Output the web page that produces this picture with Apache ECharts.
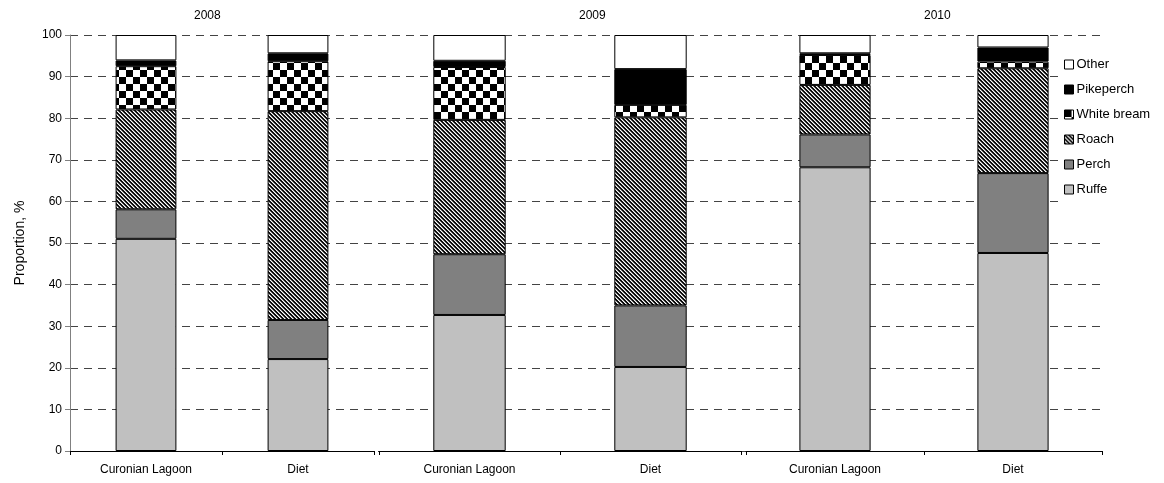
<!DOCTYPE html>
<html>
<head>
<meta charset="utf-8">
<script src="https://cdn.jsdelivr.net/npm/echarts@6/dist/echarts.min.js"></script>
<style>
  html, body { margin: 0; padding: 0; background: #fff; }
  #chart { width: 1164px; height: 483px; }
</style>
</head>
<body>
<div id="chart"></div>
<script>
// Fish species composition (%), in the lagoon catch vs. in the diet, per year.
const years = ['2008', '2009', '2010'];
const categories = ['Curonian Lagoon', 'Diet'];
// values ordered: 2008 CL, 2008 Diet, 2009 CL, 2009 Diet, 2010 CL, 2010 Diet
const ruffe      = [51.0, 22.1, 32.7, 20.2, 68.2, 47.6];
const perch      = [7.1,  9.4, 14.6, 14.8,  7.9, 19.2];
const roach      = [24.0, 50.2, 32.3, 45.2, 11.9, 25.2];
const whiteBream = [10.4, 12.0, 12.7,  3.0,  7.2,  1.6];
const pikeperch  = [1.4,  1.9,  1.5,  8.6,  0.4,  3.4];
const other      = [6.1,  4.4,  6.2,  8.2,  4.4,  3.0];
const yTicks = [0, 10, 20, 30, 40, 50, 60, 70, 80, 90, 100];

// Fill patterns
function makeStripes() {
  const n = 4, c = document.createElement('canvas');
  c.width = n; c.height = n;
  const ctx = c.getContext('2d');
  const img = ctx.createImageData(n, n);
  for (let y = 0; y < n; y++) for (let x = 0; x < n; x++) {
    const d = ((x - y) % n + n) % n;
    const v = d === 0 ? 0 : (d === 1 ? 30 : (d === 3 ? 140 : 255));
    const i = (y * n + x) * 4;
    img.data[i] = img.data[i + 1] = img.data[i + 2] = v; img.data[i + 3] = 255;
  }
  ctx.putImageData(img, 0, 0);
  return c;
}
function makeChecker() {
  const s = 7, c = document.createElement('canvas');
  c.width = 2 * s; c.height = 2 * s;
  const ctx = c.getContext('2d');
  ctx.fillStyle = '#fff'; ctx.fillRect(0, 0, 2 * s, 2 * s);
  ctx.fillStyle = '#000';
  ctx.fillRect(0, 0, s, s); ctx.fillRect(s, s, s, s);
  return c;
}

const species = [
  { name: 'Ruffe',       values: ruffe,      color: '#c0c0c0' },
  { name: 'Perch',       values: perch,      color: '#808080' },
  { name: 'Roach',       values: roach,      color: { image: makeStripes(), repeat: 'repeat' } },
  { name: 'White bream', values: whiteBream, color: { image: makeChecker(), repeat: 'repeat' } },
  { name: 'Pikeperch',   values: pikeperch,  color: '#000000' },
  { name: 'Other',       values: other,      color: '#ffffff' }
];

const font = 'Liberation Sans, Arial, sans-serif';
const panels = [
  { left: 70,  width: 304, offset: 0 },
  { left: 379, width: 362, offset: 2 },
  { left: 746, width: 356, offset: 2 }
];
const yearX = [207, 592, 937];

const grids = [{ left: 70, right: 62, top: 35, bottom: 32 }];
const xAxes = [{ type: 'value', gridIndex: 0, show: false, min: 0, max: 1 }];
const yAxes = [{
  type: 'value', gridIndex: 0, min: 0, max: 100, interval: 10,
  name: 'Proportion, %', nameLocation: 'middle', nameGap: 43,
  nameTextStyle: { fontFamily: font, fontSize: 14, color: '#000' },
  axisLine: { show: true, lineStyle: { color: '#808080', width: 1 } },
  axisTick: { show: true, length: 5, lineStyle: { color: '#808080' } },
  axisLabel: { fontFamily: font, fontSize: 12, color: '#000', margin: 8,
               customValues: yTicks },
  splitLine: { show: true, lineStyle: { color: '#444', type: [8, 6], width: 1 } }
}];

panels.forEach((p, i) => {
  grids.push({ left: p.left, width: p.width, top: 35, bottom: 32 });
  xAxes.push({
    type: 'category', gridIndex: i + 1, data: categories, offset: p.offset,
    axisLine: { show: true, lineStyle: { color: '#000', width: 1 } },
    axisTick: { show: true, length: 4, lineStyle: { color: '#000' } },
    axisLabel: { fontFamily: font, fontSize: 12, color: '#000', margin: 13 - p.offset }
  });
  yAxes.push({ type: 'value', gridIndex: i + 1, min: 0, max: 100, show: false });
});

const series = [];
panels.forEach((p, g) => {
  species.forEach(sp => {
    series.push({
      type: 'bar', name: sp.name, stack: 'y' + g,
      xAxisIndex: g + 1, yAxisIndex: g + 1,
      barWidth: '40%',
      data: [sp.values[2 * g], sp.values[2 * g + 1]],
      itemStyle: { color: sp.color, borderColor: '#000', borderWidth: 1 }
    });
  });
});

const chart = echarts.init(document.getElementById('chart'), null, { renderer: 'canvas' });
chart.setOption({
  animation: false,
  backgroundColor: '#fff',
  grid: grids,
  xAxis: xAxes,
  yAxis: yAxes,
  legend: {
    orient: 'vertical', left: 1058, top: 52,
    padding: [6, 10, 6, 6],
    backgroundColor: '#fff',
    itemWidth: 9, itemHeight: 9, itemGap: 12,
    icon: 'rect',
    data: ['Other', 'Pikeperch', 'White bream', 'Roach', 'Perch', 'Ruffe'],
    textStyle: { fontFamily: font, fontSize: 13, color: '#000', padding: [0, 0, 0, -2] },
    itemStyle: { borderColor: '#000', borderWidth: 1 }
  },
  graphic: years.map((y, i) => ({
    type: 'text', left: yearX[i] - 13, top: 10,
    style: { text: y, font: '12px ' + font, fill: '#000' }
  })),
  series: series
});
</script>
</body>
</html>
